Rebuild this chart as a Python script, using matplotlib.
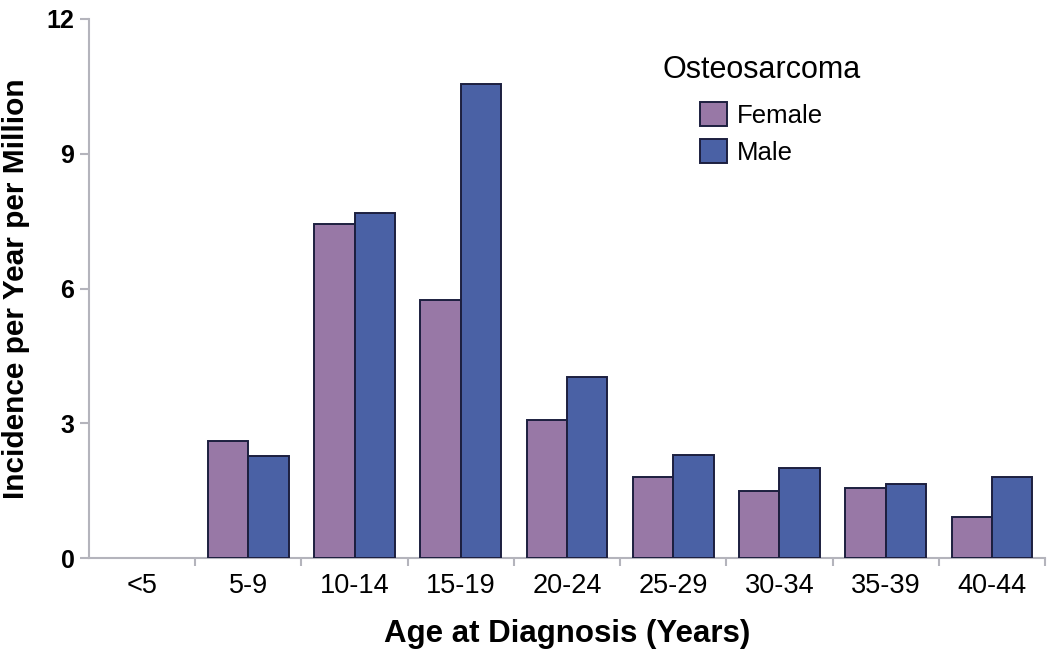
import numpy as np
import matplotlib
matplotlib.use("Agg")
import matplotlib.pyplot as plt
from matplotlib.patches import Patch

plt.rcParams['font.family'] = ['Liberation Sans', 'DejaVu Sans']

# data
ages = ['<5', '5-9', '10-14', '15-19', '20-24', '25-29', '30-34', '35-39', '40-44']
female = [0, 2.60, 7.44, 5.75, 3.07, 1.80, 1.49, 1.56, 0.91]
male = [0, 2.27, 7.68, 10.56, 4.03, 2.29, 2.00, 1.65, 1.80]

fem_col = '#9878a6'
male_col = '#4a61a5'
edge_col = '#1c1f3f'
axis_col = '#b4b4bc'

fig = plt.figure(figsize=(10.5, 6.51), dpi=100)
ax = fig.add_axes([89/1050, 1 - 558/651, (1045-89)/1050, (558-19)/651])

x = np.arange(len(ages))
w = 0.38
# no outline for empty bars
f_edges = [edge_col if v > 0 else 'none' for v in female]
m_edges = [edge_col if v > 0 else 'none' for v in male]
ax.bar(x - w/2, female, w, color=fem_col, edgecolor=f_edges, linewidth=1.4, zorder=3)
ax.bar(x + w/2, male, w, color=male_col, edgecolor=m_edges, linewidth=1.4, zorder=3)

ax.set_xlim(-0.5, len(ages) - 0.5)
ax.set_ylim(0, 12)
ax.set_yticks([0, 3, 6, 9, 12])
ax.set_yticklabels(['0', '3', '6', '9', '12'], fontsize=18, fontweight='bold')
ax.set_xticks(x)
ax.set_xticklabels(ages, fontsize=19.5)
ax.set_xticks(np.arange(0.5, len(ages)), minor=True)
ax.tick_params(axis='x', which='major', length=0, pad=11)
ax.tick_params(axis='x', which='minor', length=6, color=axis_col, width=1.5)
ax.tick_params(axis='y', length=6.5, color=axis_col, width=1.5, pad=4)

for s in ['top', 'right']:
    ax.spines[s].set_visible(False)
for s in ['left', 'bottom']:
    ax.spines[s].set_color(axis_col)
    ax.spines[s].set_linewidth(1.5)

ax.set_xlabel('Age at Diagnosis (Years)', fontsize=22.5, fontweight='bold', labelpad=14)
ax.set_ylabel('Incidence per Year per Million', fontsize=21.5, fontweight='bold', labelpad=12)

# legend
fig.text(662/1050, 1 - 70/651, 'Osteosarcoma', fontsize=22, ha='left', va='center')
handles = [Patch(facecolor=fem_col, edgecolor=edge_col, linewidth=1.4),
           Patch(facecolor=male_col, edgecolor=edge_col, linewidth=1.4)]
fig.legend(handles, ['Female', 'Male'], loc='upper left',
           bbox_to_anchor=(700/1050, 1 - 102/651), frameon=False, fontsize=18.5,
           handlelength=1.05, handleheight=1.05, handletextpad=0.4,
           labelspacing=0.45, borderpad=0, borderaxespad=0)

fig.savefig('out.png', dpi=100)
